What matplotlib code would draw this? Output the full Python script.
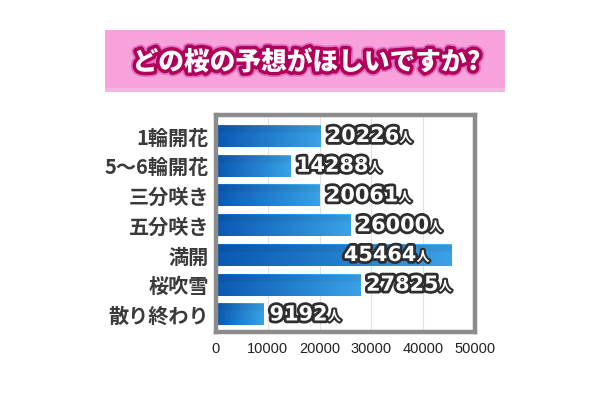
import numpy as np
import matplotlib
matplotlib.use("Agg")
import matplotlib.pyplot as plt
import matplotlib.patheffects as pe
from matplotlib.patches import Rectangle
from matplotlib.colors import to_rgb

plt.rcParams['font.family'] = ['Noto Sans CJK JP', 'DejaVu Sans']

title = "どの桜の予想がほしいですか?"
categories = ["1輪開花", "5〜6輪開花", "三分咲き", "五分咲き", "満開", "桜吹雪", "散り終わり"]
values = [20226, 14288, 20061, 26000, 45464, 27825, 9192]
unit = "人"
xticks = [0, 10000, 20000, 30000, 40000, 50000]

fig = plt.figure(figsize=(6.1, 4.0), dpi=100)
fig.patch.set_facecolor("white")

# pink title banner
fig.patches.append(Rectangle((0.172, 0.77), 0.656, 0.155, transform=fig.transFigure,
                             facecolor="#f8a2dc", edgecolor="none", zorder=0))
fig.patches.append(Rectangle((0.172, 0.77), 0.656, 0.01, transform=fig.transFigure,
                             facecolor="#f3b6e4", edgecolor="none", zorder=0))
fig.text(0.503, 0.845, title, ha="center", va="center", fontsize=18.5,
         fontweight="heavy", color="white",
         path_effects=[pe.Stroke(linewidth=7.5, foreground="#e070bc"),
                       pe.Stroke(linewidth=5, foreground="#b0005a"),
                       pe.Normal()])

ax = fig.add_axes([0.354, 0.17, 0.4246, 0.5425])
y = np.arange(len(categories))
bars = ax.barh(y, values, height=0.74, color="#1a6fc4", zorder=2)

# horizontal blue gradient inside each bar, with a thin top highlight
c0 = np.array(to_rgb("#0a58b2"))
c1 = np.array(to_rgb("#3aa2e6"))
t = np.linspace(0, 1, 200)[None, :, None]
grad = c0 + (c1 - c0) * t
rows = np.ones((24, 1, 1))
rows[:2] = 1.15
rows[2:9] = 0.94
img = np.clip(grad * rows, 0, 1)
for b in bars:
    x0, y0, w, h = b.get_x(), b.get_y(), b.get_width(), b.get_height()
    im = ax.imshow(img, extent=[x0, x0 + w, y0 + h, y0], aspect="auto",
                   interpolation="bilinear", zorder=3)
    im.set_clip_path(b)

ax.set_xlim(0, 50000)
ax.set_ylim(6.59, -0.706)
ax.set_xticks(xticks)
ax.set_xticklabels([str(v) for v in xticks], fontsize=10.5,
                   family=["Liberation Sans"], color="#222222")
ax.set_yticks(y)
ax.set_yticklabels(categories, fontsize=14.5, fontweight="bold", color="#3a3a3a")
ax.tick_params(axis="both", length=0)
ax.tick_params(axis="x", pad=7)
ax.tick_params(axis="y", pad=5)
ax.grid(axis="x", color="#e2e2e2", linewidth=0.8, zorder=0)
ax.set_axisbelow(True)
for s in ax.spines.values():
    s.set_color("#8c8c8c")
    s.set_linewidth(3.2)
    s.set_zorder(5)

stroke = [pe.Stroke(linewidth=4, foreground="#2e2e2e"), pe.Normal()]
for yi, v in zip(y, values):
    inside = v > 0.8 * ax.get_xlim()[1]
    if inside:
        num = ax.annotate(f"{v}", xy=(v, yi), xytext=(-35, 0), textcoords="offset pixels",
                          ha="right", va="center", fontsize=15, fontweight="bold",
                          family=["DejaVu Sans"], color="white", path_effects=stroke, zorder=6)
    else:
        num = ax.annotate(f"{v}", xy=(v, yi), xytext=(6, 0), textcoords="offset pixels",
                          ha="left", va="center", fontsize=15, fontweight="bold",
                          family=["DejaVu Sans"], color="white", path_effects=stroke, zorder=6)
    ax.annotate(unit, xy=(1, 0), xycoords=num, xytext=(0, 1), textcoords="offset pixels",
                ha="left", va="bottom", fontsize=9.5, fontweight="bold", color="white",
                path_effects=[pe.Stroke(linewidth=3, foreground="#2e2e2e"), pe.Normal()],
                zorder=6)

fig.savefig("out.png", dpi=100, facecolor="white")
